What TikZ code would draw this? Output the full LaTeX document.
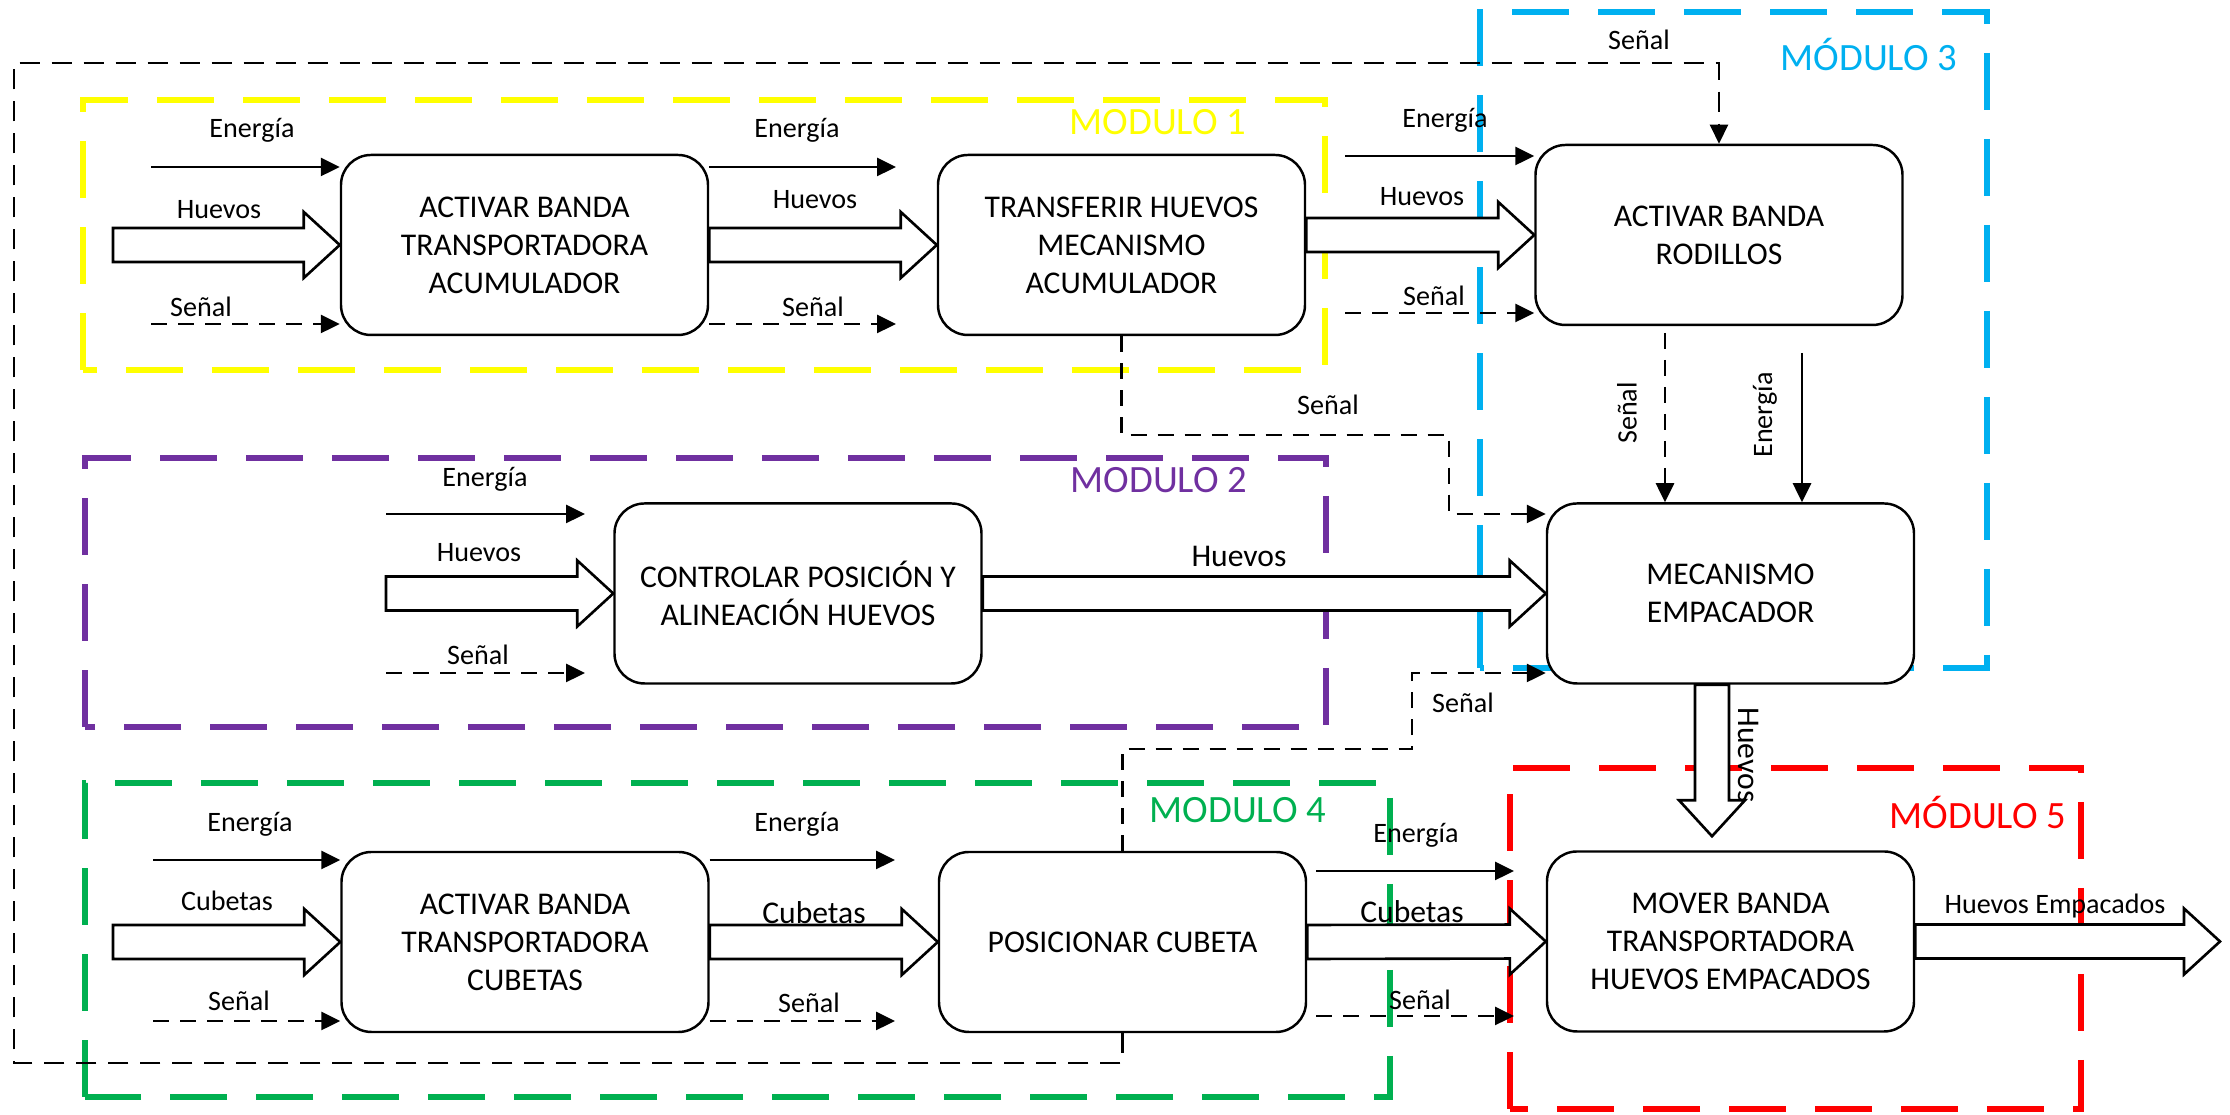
\documentclass[tikz,border=0pt]{standalone}
\usepackage{fontspec}
\setmainfont{Carlito}
\usetikzlibrary{arrows.meta, positioning, calc}

\definecolor{amarillo}{HTML}{FFFF00}
\definecolor{morado}{HTML}{7030A0}
\definecolor{celeste}{HTML}{00B0F0}
\definecolor{verde}{HTML}{00B050}
\definecolor{rojo}{HTML}{FF0000}

\begin{document}
\begin{tikzpicture}[
    >={Triangle[length=1.9mm,width=1.8mm]},
    font=\fontsize{8}{9.6}\selectfont,
    proceso/.style={
        rectangle, rounded corners=3mm,
        draw=black, line width=0.7pt, fill=white,
        minimum width=3.67cm, minimum height=1.8cm,
        align=center, font=\fontsize{9}{10.8}\selectfont
    },
    modulo/.style={line width=1.7pt, dash pattern=on 5.7mm off 2.9mm},
    titulo/.style={anchor=east, inner sep=0pt, font=\fontsize{11}{13}\selectfont},
    etq/.style={inner sep=0pt},
    grande/.style={inner sep=0pt, font=\fontsize{9}{10.8}\selectfont},
    energia/.style={->, line width=0.75pt},
    senal/.style={->, line width=0.75pt, dash pattern=on 1.6mm off 1.1mm},
    lazo/.style={->, line width=0.6pt, dash pattern=on 2mm off 1.2mm},
    flujo/.style={draw=black, line width=0.75pt, fill=white}
]
\useasboundingbox (0,0) rectangle (22.30,11.15);

% modulos
\draw[modulo, draw=amarillo] (0.83,7.45) rectangle (13.25,10.15);
\draw[modulo, draw=morado]   (0.85,3.88) rectangle (13.26,6.57);
\draw[modulo, draw=celeste]  (14.80,4.47) rectangle (19.87,11.03);
\draw[modulo, draw=verde]    (0.85,0.18) rectangle (13.90,3.32);
\draw[modulo, draw=rojo]     (15.10,0.06) rectangle (20.81,3.47);

\node (m1) [titulo, text=amarillo] at (12.47,9.93) {MODULO 1};
\node (m2) [titulo, text=morado]   at (12.48,6.35) {MODULO 2};
\node (m3) [titulo, text=celeste]  at (19.58,10.60) {MÓDULO 3};
\node (m4) [titulo, text=verde]    at (13.27,3.05) {MODULO 4};
\node (m5) [titulo, text=rojo]     at (20.67,3.02) {MÓDULO 5};

% procesos
\node (act1)  [proceso] at (5.245,8.70) {ACTIVAR BANDA\\TRANSPORTADORA\\ACUMULADOR};
\node (trans) [proceso] at (11.215,8.70) {TRANSFERIR HUEVOS\\MECANISMO\\ACUMULADOR};
\node (rod)   [proceso] at (17.19,8.80) {ACTIVAR BANDA\\RODILLOS};
\node (ctrl)  [proceso] at (7.98,5.215) {CONTROLAR POSICIÓN Y\\ALINEACIÓN HUEVOS};
\node (emp)   [proceso] at (17.305,5.215) {MECANISMO\\EMPACADOR};
\node (act4)  [proceso] at (5.25,1.73) {ACTIVAR BANDA\\TRANSPORTADORA\\CUBETAS};
\node (pos)   [proceso] at (11.225,1.73) {POSICIONAR CUBETA};
\node (mover) [proceso] at (17.305,1.735) {MOVER BANDA\\TRANSPORTADORA\\HUEVOS EMPACADOS};

% lazo de senal
\coordinate (lzA) at (0.14,0.52);
\coordinate (lzB) at (0.14,10.52);
\draw[lazo] (pos.south) |- (lzA) -- (lzB) -| (rod.north);
\node (tLz) [etq] at (16.39,10.75) {Señal};

% flechas de flujo
\coordinate (hIn1) at (1.13,8.70);
\coordinate (hIn2) at (3.86,5.215);
\coordinate (cIn4) at (1.13,1.73);
\coordinate (hOut) at (22.20,1.735);
\coordinate (tr2) at (trans.east |- rod.west);
\coordinate (empB) at ($(emp.south)+(-0.185,0)$);
\coordinate (movT) at ($(mover.north)+(-0.185,0.14)$);
\foreach \a/\b in {hIn1/act1.west, act1.east/trans.west, tr2/rod.west,
                   hIn2/ctrl.west, ctrl.east/emp.west, empB/movT,
                   cIn4/act4.west, act4.east/pos.west, pos.east/mover.west,
                   mover.east/hOut}{
    \coordinate (fb) at ($(\b)!0.36cm!(\a)$);
    \draw[flujo] ($(\a)!0.17cm!90:(\b)$) -- ($(fb)!0.17cm!90:(\b)$)
        -- ($(fb)!0.33cm!90:(\b)$) -- (\b) -- ($(fb)!0.33cm!-90:(\b)$)
        -- ($(fb)!0.17cm!-90:(\b)$) -- ($(\a)!0.17cm!-90:(\b)$) -- cycle;
}

% modulo 1
\coordinate (e1a) at (1.51,9.48);
\coordinate (s1a) at (1.51,7.91);
\coordinate (e1b) at (8.96,9.48);
\coordinate (s1b) at (8.96,7.91);
\coordinate (e1c) at (13.45,9.59);
\coordinate (s1c) at (13.45,8.02);
\draw[energia] (e1a) -- (e1a -| act1.west);
\draw[senal]   (s1a) -- (s1a -| act1.west);
\draw[energia] (e1b -| act1.east) -- (e1b);
\draw[senal]   (s1b -| act1.east) -- (s1b);
\draw[energia] (e1c) -- (e1c -| rod.west);
\draw[senal]   (s1c) -- (s1c -| rod.west);

\node (tE1a) [etq] at (2.52,9.85) {Energía};
\node (tH1a) [etq] at (2.19,9.05) {Huevos};
\node (tS1a) [etq] at (2.01,8.08) {Señal};
\node (tE1b) [etq] at (7.97,9.85) {Energía};
\node (tH1b) [etq] at (8.15,9.15) {Huevos};
\node (tS1b) [etq] at (8.13,8.08) {Señal};
\node (tE1c) [etq] at (14.45,9.95) {Energía};
\node (tH1c) [etq] at (14.22,9.18) {Huevos};
\node (tS1c) [etq] at (14.34,8.19) {Señal};

% senales hacia el empacador
\coordinate (s2a) at (14.49,6.80);
\coordinate (s2b) at ($(emp.west)+(0,0.795)$);
\draw[senal] (trans.south) |- (s2a) |- (s2b);
\node (tS2) [etq] at (13.28,7.10) {Señal};

\coordinate (s4a) at (14.12,3.66);
\coordinate (s4b) at ($(emp.west)+(0,-0.795)$);
\draw[senal] (pos.north) |- (s4a) |- (s4b);
\node (tS4) [etq] at (14.63,4.12) {Señal};

\coordinate (s3a) at (16.65,7.82);
\coordinate (e3a) at (18.02,7.62);
\draw[senal]   (s3a) -- (s3a |- emp.north);
\draw[energia] (e3a) -- (e3a |- emp.north);
\node (tS3) [etq, rotate=90] at (16.27,7.02) {Señal};
\node (tE3) [etq, rotate=90] at (17.65,7.00) {Energía};

% modulo 2
\coordinate (e2a) at (3.86,6.01);
\coordinate (e2b) at (5.85,6.01);
\coordinate (s2c) at (3.86,4.42);
\coordinate (s2d) at (5.85,4.42);
\draw[energia] (e2a) -- (e2b);
\draw[senal]   (s2c) -- (s2d);
\node (tE2) [etq] at (4.85,6.36) {Energía};
\node (tH2) [etq] at (4.79,5.62) {Huevos};
\node (tS2c) [etq] at (4.78,4.60) {Señal};
\node (tH2b) [grande] at (12.39,5.59) {Huevos};

% empacador a banda
\node (tH3) [grande, rotate=-90] at (17.49,3.60) {Huevos};

% modulo 4
\coordinate (e4a) at (1.53,2.55);
\coordinate (s4c) at (1.53,0.94);
\coordinate (e4b) at (8.95,2.55);
\coordinate (s4d) at (8.95,0.94);
\coordinate (e4c) at (13.16,2.44);
\coordinate (e4d) at (15.14,2.44);
\coordinate (s4e) at (13.16,0.99);
\coordinate (s4f) at (15.14,0.99);
\draw[energia] (e4a) -- (e4a -| act4.west);
\draw[senal]   (s4c) -- (s4c -| act4.west);
\draw[energia] (e4b -| act4.east) -- (e4b);
\draw[senal]   (s4d -| act4.east) -- (s4d);
\draw[energia] (e4c) -- (e4d);
\draw[senal]   (s4e) -- (s4f);

\node (tE4a) [etq] at (2.50,2.91) {Energía};
\node (tC4a) [etq] at (2.27,2.14) {Cubetas};
\node (tS4a) [etq] at (2.39,1.14) {Señal};
\node (tE4b) [etq] at (7.97,2.91) {Energía};
\node (tC4b) [grande] at (8.14,2.02) {Cubetas};
\node (tS4b) [etq] at (8.09,1.12) {Señal};
\node (tE4c) [etq] at (14.16,2.80) {Energía};
\node (tC4c) [grande] at (14.12,2.03) {Cubetas};
\node (tS4c) [etq] at (14.20,1.15) {Señal};

% modulo 5
\node (tHE) [etq] at (20.55,2.09) {Huevos Empacados};

\end{tikzpicture}
\end{document}
